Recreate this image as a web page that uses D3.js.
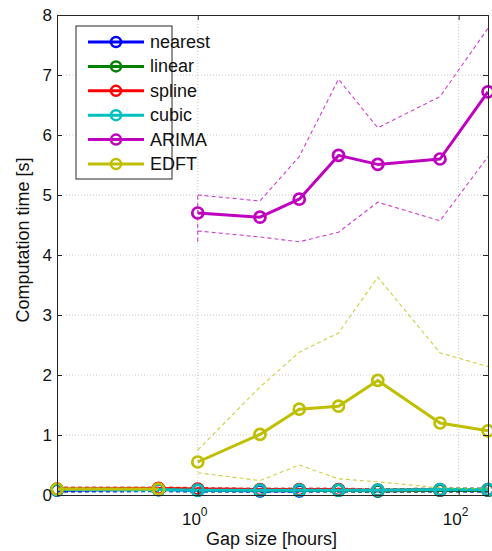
<!DOCTYPE html>
<html>
<head>
<meta charset="utf-8">
<script src="https://cdn.jsdelivr.net/npm/d3@7"></script>
<style>
  html, body { margin: 0; padding: 0; background: #fff; }
  svg { display: block; font-family: "Liberation Sans", Arial, sans-serif; }
</style>
</head>
<body>
<svg id="chart" width="492" height="551"></svg>
<script>
// ---------- data ----------
const gapAll  = [1/12, 0.5, 1, 3, 6, 12, 24, 72, 168];   // hours
const gapMain = [1, 3, 6, 12, 24, 72, 168];

const nearestMean = [0.08, 0.09, 0.08, 0.07, 0.07, 0.08, 0.07, 0.08, 0.08];
const nearestUp   = [0.10, 0.11, 0.10, 0.09, 0.09, 0.10, 0.09, 0.10, 0.10];
const nearestLo   = [0.05, 0.06, 0.05, 0.05, 0.05, 0.05, 0.05, 0.05, 0.05];

const linearMean  = [0.09, 0.10, 0.09, 0.08, 0.08, 0.08, 0.07, 0.08, 0.08];
const linearUp    = [0.12, 0.12, 0.11, 0.10, 0.10, 0.10, 0.10, 0.10, 0.10];
const linearLo    = [0.06, 0.07, 0.06, 0.06, 0.06, 0.06, 0.05, 0.06, 0.06];

const splineMean  = [0.10, 0.11, 0.10, 0.09, 0.09, 0.09, 0.08, 0.09, 0.09];
const splineUp    = [0.13, 0.13, 0.12, 0.11, 0.11, 0.11, 0.10, 0.11, 0.11];
const splineLo    = [0.07, 0.08, 0.07, 0.07, 0.07, 0.07, 0.06, 0.07, 0.07];

const cubicMean   = [0.09, 0.09, 0.08, 0.08, 0.08, 0.08, 0.08, 0.09, 0.09];
const cubicUp     = [0.11, 0.11, 0.10, 0.10, 0.10, 0.10, 0.10, 0.11, 0.11];
const cubicLo     = [0.06, 0.06, 0.06, 0.06, 0.06, 0.06, 0.06, 0.07, 0.07];

const arimaMean   = [4.70, 4.63, 4.93, 5.66, 5.51, 5.60, 6.72];
const arimaUp     = [5.00, 4.90, 5.64, 6.93, 6.12, 6.64, 7.78];
const arimaLo     = [4.40, 4.30, 4.22, 4.38, 4.88, 4.57, 5.64];
const arimaEdgeY  = [4.22, 5.00];        // short dashed segment at gap = 1 h

const edftEarlyGap  = [1/12, 0.5];
const edftEarlyMean = [0.10, 0.10];
const edftMean    = [0.55, 1.01, 1.43, 1.48, 1.91, 1.20, 1.07];
const edftUp      = [0.75, 1.80, 2.38, 2.70, 3.63, 2.37, 2.14];
const edftLo      = [0.37, 0.24, 0.50, 0.27, 0.22, 0.12, 0.10];

const seriesNames  = ["nearest", "linear", "spline", "cubic", "ARIMA", "EDFT"];
const seriesColors = ["#0000ff", "#008000", "#ff0000", "#00bfbf", "#bf00bf", "#bfbf00"];

const yTicks = [0, 1, 2, 3, 4, 5, 6, 7, 8];
const xTicks = [1, 100];
const xTickExp = ["0", "2"];

const xLabel = "Gap size [hours]";
const yLabel = "Computation time [s]";

// ---------- layout ----------
const svg = d3.select("#chart");
const L = 57, R = 488, T = 15, B = 495;

const x = d3.scaleLog().domain([1/12, 168]).range([L, R]);
const y = d3.scaleLinear().domain([0, 8]).range([B, T]);

// grid
const grid = svg.append("g");
grid.selectAll("line.gy").data(yTicks.filter(d => d > 0 && d < 8)).join("line")
  .attr("x1", L).attr("x2", R).attr("y1", d => y(d)).attr("y2", d => y(d))
  .attr("stroke", "#c8c8c8").attr("stroke-width", 1).attr("stroke-dasharray", "1,2");
grid.selectAll("line.gx").data(xTicks).join("line")
  .attr("x1", d => x(d)).attr("x2", d => x(d)).attr("y1", T).attr("y2", B)
  .attr("stroke", "#c8c8c8").attr("stroke-width", 1).attr("stroke-dasharray", "1,2");

// series
const lowSeries = [
  { mean: nearestMean, up: nearestUp, lo: nearestLo, c: seriesColors[0] },
  { mean: linearMean,  up: linearUp,  lo: linearLo,  c: seriesColors[1] },
  { mean: splineMean,  up: splineUp,  lo: splineLo,  c: seriesColors[2] },
  { mean: cubicMean,   up: cubicUp,   lo: cubicLo,   c: seriesColors[3] }
];

const line = d3.line().x(d => x(d[0])).y(d => y(d[1]));
const zip = (xs, ys) => xs.map((v, i) => [v, ys[i]]);

const plot = svg.append("g");

function drawDashed(xs, ys, c, w) {
  plot.append("path").datum(zip(xs, ys)).attr("d", line)
    .attr("fill", "none").attr("stroke", c).attr("stroke-width", w || 1.1)
    .attr("stroke-opacity", 0.75).attr("stroke-dasharray", "4,3");
}
function drawMain(xs, ys, c) {
  plot.append("path").datum(zip(xs, ys)).attr("d", line)
    .attr("fill", "none").attr("stroke", c).attr("stroke-width", 3)
    .attr("stroke-linejoin", "round");
  plot.append("g").selectAll("circle").data(zip(xs, ys)).join("circle")
    .attr("cx", d => x(d[0])).attr("cy", d => y(d[1])).attr("r", 5.5)
    .attr("fill", "none").attr("stroke", c).attr("stroke-width", 2.7);
}

lowSeries.forEach(s => { drawDashed(gapAll, s.up, s.c, 1.6); drawDashed(gapAll, s.lo, s.c, 1.6); });
lowSeries.forEach(s => drawMain(gapAll, s.mean, s.c));

drawDashed(gapMain, arimaUp, seriesColors[4]);
drawDashed(gapMain, arimaLo, seriesColors[4]);
drawDashed([gapMain[0], gapMain[0]], arimaEdgeY, seriesColors[4]);
drawMain(gapMain, arimaMean, seriesColors[4]);

drawDashed(gapMain, edftUp, seriesColors[5]);
drawDashed(gapMain, edftLo, seriesColors[5]);
drawMain(gapMain, edftMean, seriesColors[5]);
drawMain(edftEarlyGap, edftEarlyMean, seriesColors[5]);

// axes
const axColor = "#262626";
const yAxL = svg.append("g").attr("transform", `translate(${L},0)`)
  .call(d3.axisLeft(y).tickValues(yTicks).tickSize(-5).tickPadding(5).tickFormat(d3.format("d")));
const yAxR = svg.append("g").attr("transform", `translate(${R},0)`)
  .call(d3.axisRight(y).tickValues(yTicks).tickSize(-5).tickFormat(""));
const xAxB = svg.append("g").attr("transform", `translate(0,${B})`)
  .call(d3.axisBottom(x).tickValues(xTicks).tickSize(-5).tickFormat(""));
const xAxT = svg.append("g").attr("transform", `translate(0,${T})`)
  .call(d3.axisTop(x).tickValues(xTicks).tickSize(-5).tickFormat(""));
[yAxL, yAxR, xAxB, xAxT].forEach(g => {
  g.selectAll("path").attr("stroke", axColor).attr("stroke-width", 1);
  g.selectAll("line").attr("stroke", axColor).attr("stroke-width", 1);
});
yAxL.selectAll("text").attr("font-size", 17).attr("fill", "#111")
  .attr("font-family", "Liberation Sans, Arial, sans-serif");

// x tick labels 10^n
const xl = svg.append("g");
xTicks.forEach((t, i) => {
  const tx = xl.append("text").attr("x", x(t) - 3).attr("y", B + 30)
    .attr("text-anchor", "middle").attr("font-size", 17).attr("fill", "#111");
  tx.append("tspan").text("10");
  tx.append("tspan").attr("dy", -9).attr("font-size", 12).text(xTickExp[i]);
});

// axis labels
svg.append("text").attr("x", (L + R) / 2 - 1).attr("y", 545)
  .attr("text-anchor", "middle").attr("font-size", 18).attr("fill", "#111").text(xLabel);
svg.append("text").attr("transform", `translate(29,${(T + B) / 2 - 15}) rotate(-90)`)
  .attr("text-anchor", "middle").attr("font-size", 18).attr("fill", "#111").text(yLabel);

// legend
const lg = svg.append("g").attr("transform", "translate(76,26)");
lg.append("rect").attr("width", 96).attr("height", 153)
  .attr("fill", "#fff").attr("stroke", "#262626").attr("stroke-width", 1);
seriesNames.forEach((name, i) => {
  const yy = 16 + i * 24.4;
  lg.append("line").attr("x1", 12).attr("x2", 68).attr("y1", yy).attr("y2", yy)
    .attr("stroke", seriesColors[i]).attr("stroke-width", 3);
  lg.append("circle").attr("cx", 40).attr("cy", yy).attr("r", 5)
    .attr("fill", "none").attr("stroke", seriesColors[i]).attr("stroke-width", 2.5);
  lg.append("text").attr("x", 74).attr("y", yy + 6).attr("font-size", 18)
    .attr("fill", "#111").text(name);
});
</script>
</body>
</html>
